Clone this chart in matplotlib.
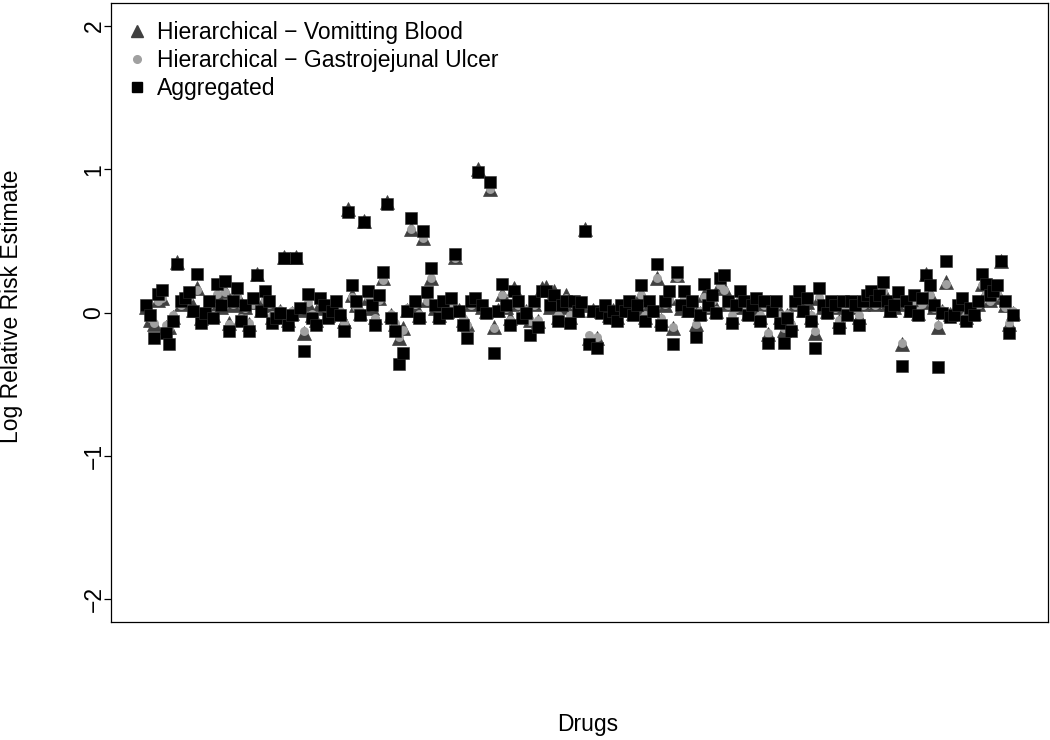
import matplotlib
matplotlib.use("Agg")
import matplotlib.pyplot as plt
from matplotlib.lines import Line2D

plt.rcParams['font.family'] = ['Liberation Sans', 'DejaVu Sans']

# Aggregated log relative risk estimates (squares), one per drug
aggregated = [
    0.05, -0.02, -0.18, 0.13, 0.16, -0.14, -0.22, -0.06, 0.34, 0.08,
    0.10, 0.14, 0.01, 0.27, -0.07, 0.00, 0.08, -0.04, 0.20, 0.05,
    0.22, -0.13, 0.08, 0.17, -0.06, 0.05, -0.13, 0.10, 0.26, 0.01,
    0.15, 0.08, -0.07, -0.04, 0.00, 0.38, -0.09, -0.02, 0.38, 0.03,
    -0.27, 0.13, -0.04, -0.09, 0.10, 0.05, -0.04, 0.01, 0.08, -0.02,
    -0.13, 0.70, 0.19, 0.08, -0.02, 0.63, 0.15, 0.05, -0.09, 0.12,
    0.28, 0.76, -0.04, -0.13, -0.36, -0.28, 0.01, 0.66, 0.08, -0.04, 0.57,
    0.14, 0.31, 0.05, -0.04, 0.08, 0.00, 0.10, 0.41, 0.01, -0.09,
    -0.18, 0.08, 0.10, 0.98, 0.05, 0.00, 0.91, -0.28, 0.01, 0.20,
    0.05, -0.09, 0.15, 0.08, -0.04, 0.00, -0.16, 0.08, -0.10, 0.15,
    0.15, 0.05, 0.12, -0.06, 0.05, 0.08, -0.07, 0.08, 0.01, 0.07,
    0.57, -0.22, 0.01, -0.25, 0.00, 0.05, -0.04, 0.01, -0.06, 0.05,
    0.01, 0.08, -0.02, 0.05, 0.19, -0.06, 0.08, 0.01, 0.34, -0.09,
    0.08, 0.15, -0.22, 0.28, 0.05, 0.15, 0.01, 0.08, -0.17, -0.02,
    0.20, 0.05, 0.12, 0.00, 0.24, 0.26, 0.08, -0.07, 0.05, 0.15,
    0.08, -0.02, 0.05, 0.10, -0.06, 0.08, -0.21, 0.01, 0.08, -0.07,
    -0.21, -0.04, -0.13, 0.08, 0.15, 0.01, 0.10, -0.06, -0.25, 0.17,
    0.05, 0.00, 0.08, 0.05, -0.11, 0.08, -0.02, 0.08, 0.05, -0.09,
    0.08, 0.12, 0.15, 0.08, 0.12, 0.21, 0.08, 0.01, 0.05, 0.14,
    -0.37, 0.08, 0.01, 0.12, -0.02, 0.10, 0.26, 0.19, 0.05,
    -0.38, 0.00, 0.36, -0.03, -0.02, 0.05, 0.10, -0.06, 0.03, -0.02,
    0.08, 0.27, 0.20, 0.12, 0.15, 0.19, 0.36, 0.08, -0.14, -0.02,
]

# Hierarchical estimates - Vomitting Blood (triangles)
hier_vomit = [
    0.04, -0.05, -0.08, 0.09, 0.10, -0.10, -0.10, -0.03, 0.35, 0.06,
    0.08, 0.10, 0.02, 0.17, -0.04, 0.01, 0.06, -0.02, 0.12, 0.04,
    0.15, -0.07, 0.05, 0.12, -0.03, 0.04, -0.08, 0.07, 0.27, 0.02,
    0.10, 0.05, -0.03, -0.01, 0.01, 0.39, -0.05, 0.00, 0.39, 0.02,
    -0.14, 0.06, -0.02, -0.05, 0.06, 0.03, -0.02, 0.02, 0.05, 0.00,
    -0.06, 0.72, 0.12, 0.05, 0.00, 0.64, 0.10, 0.03, -0.03, 0.10,
    0.24, 0.77, -0.02, -0.08, -0.18, -0.11, 0.02, 0.58, 0.05, -0.02, 0.52,
    0.09, 0.24, 0.03, -0.02, 0.06, 0.01, 0.07, 0.39, 0.02, -0.05,
    -0.08, 0.06, 0.07, 1.00, 0.04, 0.01, 0.86, -0.10, 0.02, 0.13,
    0.04, -0.04, 0.17, 0.06, -0.02, 0.01, -0.05, 0.06, -0.06, 0.17,
    0.18, 0.04, 0.15, -0.03, 0.04, 0.12, -0.03, 0.06, 0.02, 0.05,
    0.58, -0.18, 0.02, -0.18, 0.01, 0.04, -0.02, 0.02, -0.03, 0.04,
    0.02, 0.06, 0.00, 0.04, 0.13, -0.03, 0.05, 0.02, 0.24, -0.05,
    0.05, 0.10, -0.11, 0.26, 0.03, 0.11, 0.02, 0.06, -0.08, 0.00,
    0.12, 0.04, 0.09, 0.01, 0.20, 0.17, 0.06, -0.03, 0.04, 0.10,
    0.06, 0.00, 0.04, 0.07, -0.03, 0.06, -0.15, 0.02, 0.06, -0.03,
    -0.12, -0.02, -0.07, 0.06, 0.11, 0.02, 0.07, -0.03, -0.14, 0.10,
    0.04, 0.01, 0.06, 0.04, -0.06, 0.06, 0.00, 0.06, 0.04, -0.03,
    0.06, 0.09, 0.12, 0.06, 0.10, 0.16, 0.06, 0.02, 0.04, 0.10,
    -0.22, 0.06, 0.02, 0.09, 0.00, 0.07, 0.27, 0.13, 0.04,
    -0.10, 0.01, 0.21, -0.01, 0.00, 0.04, 0.07, -0.03, 0.02, 0.00,
    0.06, 0.20, 0.14, 0.09, 0.11, 0.14, 0.36, 0.05, -0.08, 0.00,
]

# Hierarchical estimates - Gastrojejunal Ulcer (circles)
hier_ulcer = [
    0.05, -0.04, -0.07, 0.08, 0.10, -0.09, -0.11, -0.02, 0.33, 0.05,
    0.07, 0.11, 0.01, 0.16, -0.03, 0.00, 0.05, -0.02, 0.13, 0.05,
    0.14, -0.08, 0.06, 0.11, -0.04, 0.03, -0.07, 0.06, 0.25, 0.01,
    0.09, 0.06, -0.02, -0.02, 0.02, 0.38, -0.04, 0.01, 0.37, 0.02,
    -0.13, 0.07, -0.01, -0.06, 0.07, 0.04, -0.01, 0.01, 0.06, 0.01,
    -0.07, 0.71, 0.11, 0.04, 0.01, 0.62, 0.11, 0.04, -0.04, 0.09,
    0.23, 0.75, -0.01, -0.07, -0.17, -0.12, 0.03, 0.58, 0.06, -0.01, 0.52,
    0.08, 0.24, 0.04, -0.01, 0.05, 0.02, 0.06, 0.38, 0.01, -0.04,
    -0.09, 0.05, 0.08, 0.97, 0.03, 0.02, 0.86, -0.11, 0.01, 0.12,
    0.03, -0.05, 0.14, 0.05, -0.01, 0.02, -0.06, 0.05, -0.05, 0.14,
    0.15, 0.05, 0.13, -0.02, 0.05, 0.10, -0.02, 0.05, 0.01, 0.06,
    0.56, -0.16, 0.01, -0.17, 0.02, 0.03, -0.01, 0.01, -0.02, 0.05,
    0.01, 0.05, 0.01, 0.03, 0.12, -0.02, 0.06, 0.01, 0.24, -0.04,
    0.06, 0.09, -0.10, 0.25, 0.04, 0.10, 0.01, 0.05, -0.08, 0.01,
    0.11, 0.03, 0.08, 0.02, 0.19, 0.16, 0.05, -0.02, 0.03, 0.09,
    0.05, 0.01, 0.03, 0.08, -0.02, 0.05, -0.14, 0.01, 0.05, -0.02,
    -0.11, -0.01, -0.08, 0.05, 0.10, 0.01, 0.08, -0.02, -0.13, 0.11,
    0.03, 0.02, 0.05, 0.03, -0.05, 0.05, 0.01, 0.05, 0.03, -0.02,
    0.05, 0.08, 0.11, 0.05, 0.09, 0.15, 0.05, 0.01, 0.03, 0.09,
    -0.21, 0.05, 0.01, 0.08, 0.01, 0.06, 0.25, 0.12, 0.03,
    -0.09, 0.02, 0.20, 0.00, 0.01, 0.03, 0.06, -0.02, 0.03, 0.01,
    0.05, 0.19, 0.13, 0.08, 0.10, 0.13, 0.35, 0.04, -0.07, 0.01,
]

y_ticks = [-2, -1, 0, 1, 2]
y_ticklabels = ["\u22122", "\u22121", "0", "1", "2"]
legend_labels = ["Hierarchical \u2212 Vomitting Blood",
                 "Hierarchical \u2212 Gastrojejunal Ulcer",
                 "Aggregated"]

n = len(aggregated)
drugs = list(range(1, n + 1))

W, H = 1050, 740
fig = plt.figure(figsize=(W / 100, H / 100), dpi=100)
left, right, top, bottom = 111, 1048, 3, 622
ax = fig.add_axes([left / W, 1 - bottom / H, (right - left) / W, (bottom - top) / H])

tri_col = '#404040'
cir_col = '#a0a0a0'
sq_col = '#000000'
fs = 16.5

ax.plot(drugs, hier_vomit, linestyle='none', marker='^', ms=9.6,
        mfc=tri_col, mec=tri_col, mew=0.5)
ax.plot(drugs, hier_ulcer, linestyle='none', marker='o', ms=6.4,
        mfc=cir_col, mec=cir_col, mew=0)
ax.plot(drugs, aggregated, linestyle='none', marker='s', ms=8.0,
        mfc=sq_col, mec='#303030', mew=0.4)

span = n - 1
ax.set_xlim(1 - 0.04 * span, n + 0.04 * span)
ax.set_ylim(-2.16, 2.16)
ax.set_xticks([])
ax.set_yticks(y_ticks)
ax.set_yticklabels(y_ticklabels, rotation=90, va='center', fontsize=fs)
ax.tick_params(axis='y', direction='out', length=5.0, width=0.9, pad=-1)
for s in ax.spines.values():
    s.set_linewidth(0.9)

fig.text(12 / W, 1 - 306 / H, "Log Relative Risk Estimate", rotation=90,
         ha='center', va='center', fontsize=fs)
fig.text(588 / W, 1 - 724 / H, "Drugs", ha='center', va='center', fontsize=fs)

handles = [
    Line2D([], [], linestyle='none', marker='^', ms=8.5, mfc=tri_col, mec=tri_col),
    Line2D([], [], linestyle='none', marker='o', ms=5.5, mfc=cir_col, mec=cir_col),
    Line2D([], [], linestyle='none', marker='s', ms=7.2, mfc=sq_col, mec=sq_col),
]
ax.legend(handles, legend_labels, loc='upper left', frameon=False, fontsize=fs,
          handlelength=0.8, handletextpad=0.45, labelspacing=0.22,
          borderaxespad=0.0, bbox_to_anchor=(8 / (right - left), 1 - 9 / (bottom - top)))

fig.savefig("out.png", dpi=100)
